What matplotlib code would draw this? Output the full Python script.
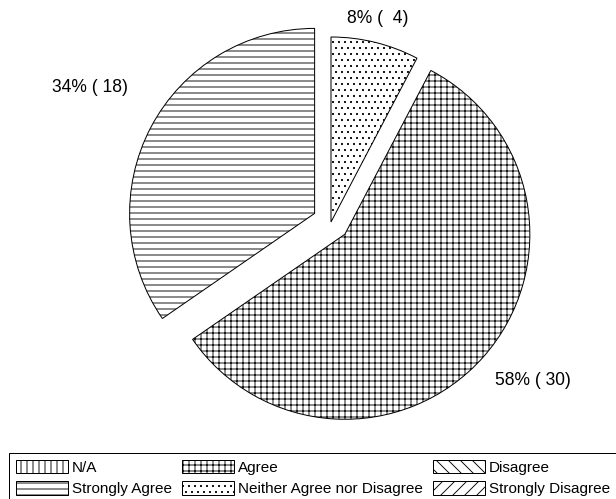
import numpy as np
import matplotlib
matplotlib.use('Agg')
import matplotlib.pyplot as plt
from matplotlib.patches import Patch

plt.rcParams['font.family'] = ['Liberation Sans', 'DejaVu Sans']
plt.rcParams['hatch.linewidth'] = 0.9

# survey answers (legend order)
categories = ['N/A', 'Strongly Agree', 'Agree', 'Neither Agree nor Disagree', 'Disagree', 'Strongly Disagree']
counts = [0, 18, 30, 4, 0, 0]
hatches = ['||', '--', '++', '..', '\\\\', '//']
explode_by_cat = [0, 0.1, 0.1, 0, 0, 0]

# label placement: distance from centre (radius units), angle nudge (deg)
label_dist = {'Strongly Agree': 1.49, 'Agree': 1.39, 'Neither Agree nor Disagree': 1.13}
label_nudge = {'Strongly Agree': -1.4, 'Agree': 3.4, 'Neither Agree nor Disagree': 0.8}


def pct_round(vals):
    # largest remainder rounding so the percentages add up to 100
    vals = np.asarray(vals, dtype=float)
    raw = vals / vals.sum() * 100
    out = np.floor(raw).astype(int)
    rest = 100 - out.sum()
    order = np.argsort(-(raw - out), kind='stable')
    out[order[:rest]] += 1
    return out


W, H, DPI = 616, 499, 72
fig = plt.figure(figsize=(W / DPI, H / DPI), dpi=DPI)
ax = fig.add_axes([0, 0, 1, 1])

idx = [i for i, c in enumerate(counts) if c > 0]
vals = [counts[i] for i in idx]
pcts = pct_round(vals)

wedges, _ = ax.pie(vals, startangle=90, counterclock=True,
                   explode=[explode_by_cat[i] for i in idx],
                   colors=['white'] * len(idx),
                   hatch=[hatches[i] for i in idx],
                   wedgeprops=dict(edgecolor='black', linewidth=1.0))

for w, i, p in zip(wedges, idx, pcts):
    name = categories[i]
    ang = np.deg2rad((w.theta1 + w.theta2) / 2 + label_nudge[name])
    d = label_dist[name]
    ax.text(d * np.cos(ang), d * np.sin(ang), '%d%% (%3d)' % (p, counts[i]),
            ha='center', va='center', fontsize=17.5)

# 1 unit = 185 px, pie centre at (331, 222) px
r = 185.0
ax.set_xlim(-331 / r, (W - 331) / r)
ax.set_ylim(-(H - 222) / r, 222 / r)
ax.axis('off')

handles = [Patch(facecolor='white', edgecolor='black', hatch=h, linewidth=1.0) for h in hatches]
leg = fig.legend(handles, categories, ncol=3, loc='upper left',
                 bbox_to_anchor=(9 / W, 1 - 453 / H), bbox_transform=fig.transFigure,
                 borderaxespad=0, fontsize=15.2, fancybox=False, framealpha=1,
                 edgecolor='black', handlelength=3.4, handleheight=1.0,
                 handletextpad=0.3, borderpad=0.45, labelspacing=0.42,
                 columnspacing=0.65)
leg.get_frame().set_linewidth(1.0)

fig.savefig('out.png', dpi=DPI)
